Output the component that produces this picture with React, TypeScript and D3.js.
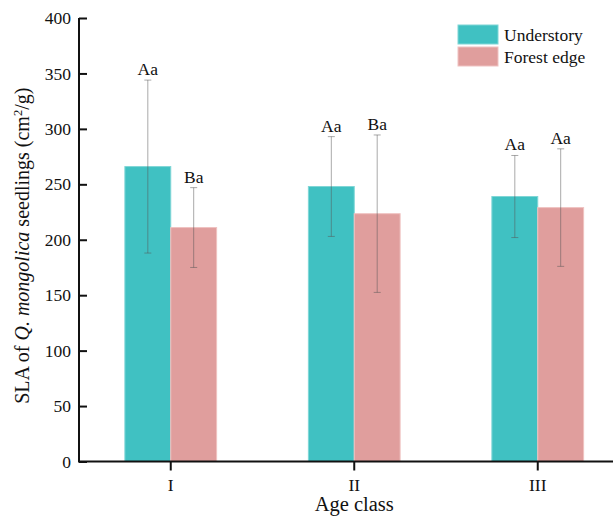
import { useEffect, useRef } from 'react'
import * as d3 from 'd3'

const W = 613
const H = 518
const MARGIN = { top: 18, left: 79, bottom: 57 }

const categories = ['I', 'II', 'III']
const series = ['Understory', 'Forest edge']
const colors = ['#40c1c2', '#e09e9d']
const strokes = ['#7fd6d6', '#efc2c1']

// means and standard deviations
const understoryMean = [266, 248, 239]
const understorySd = [78, 45, 37]
const edgeMean = [211, 223.5, 229]
const edgeSd = [36, 71, 53]
const understoryLetters = ['Aa', 'Aa', 'Aa']
const edgeLetters = ['Ba', 'Ba', 'Aa']

const yTicks = [0, 50, 100, 150, 200, 250, 300, 350, 400]

const FONT = '"Liberation Serif", "Times New Roman", serif'

export default function App() {
  const svgRef = useRef<SVGSVGElement | null>(null)

  useEffect(() => {
    if (!svgRef.current) return
    const svg = d3.select(svgRef.current)
    svg.selectAll('*').remove()

    const y = d3.scaleLinear().domain([0, 400]).range([461.5, MARGIN.top])
    const x = d3.scaleBand<string>().domain(categories).range([MARGIN.left, MARGIN.left + 3 * 183.5]).paddingInner(0).paddingOuter(0)
    const xs = d3.scaleBand<string>().domain(series).range([0, x.bandwidth() * 0.5])
    const groupOffset = x.bandwidth() * 0.25

    const data = series.map((s, si) => categories.map((c, ci) => ({
      cat: c,
      s,
      si,
      mean: si === 0 ? understoryMean[ci] : edgeMean[ci],
      sd: si === 0 ? understorySd[ci] : edgeSd[ci],
      letter: si === 0 ? understoryLetters[ci] : edgeLetters[ci],
    }))).flat()

    const g = svg.append('g')

    // bars
    g.selectAll('rect.bar').data(data).enter().append('rect')
      .attr('x', d => (x(d.cat) as number) + groupOffset + (xs(d.s) as number))
      .attr('y', d => y(d.mean))
      .attr('width', xs.bandwidth())
      .attr('height', d => y(0) - y(d.mean))
      .attr('fill', d => colors[d.si])
      .attr('stroke', d => strokes[d.si])
      .attr('stroke-width', 1)

    // error bars
    const cx = (d: typeof data[number]) => (x(d.cat) as number) + groupOffset + (xs(d.s) as number) + xs.bandwidth() / 2
    const eg = g.selectAll('g.err').data(data).enter().append('g')
      .attr('stroke', '#555').attr('stroke-opacity', 0.5).attr('stroke-width', 1)
    eg.append('line')
      .attr('x1', cx).attr('x2', cx)
      .attr('y1', d => y(d.mean + d.sd)).attr('y2', d => y(d.mean - d.sd))
    eg.append('line')
      .attr('x1', d => cx(d) - 3.5).attr('x2', d => cx(d) + 3.5)
      .attr('y1', d => y(d.mean + d.sd)).attr('y2', d => y(d.mean + d.sd))
    eg.append('line')
      .attr('x1', d => cx(d) - 3.5).attr('x2', d => cx(d) + 3.5)
      .attr('y1', d => y(d.mean - d.sd)).attr('y2', d => y(d.mean - d.sd))

    // letters
    g.selectAll('text.letter').data(data).enter().append('text')
      .attr('x', cx)
      .attr('y', d => y(d.mean + d.sd) - 5)
      .attr('text-anchor', 'middle')
      .attr('font-family', FONT).attr('font-size', 17.5).attr('fill', '#111')
      .text(d => d.letter)

    // y axis
    const ya = svg.append('g').attr('transform', `translate(${MARGIN.left},0)`)
      .call(d3.axisRight(y).tickValues(yTicks).tickSize(8).tickFormat(d3.format('d')))
    ya.select('.domain').attr('stroke', '#111').attr('stroke-width', 2).attr('d', `M0,${y(0)}V${y(400)}`)
    ya.selectAll('.tick line').attr('stroke', '#111').attr('stroke-width', 2)
    ya.selectAll('.tick text')
      .attr('x', -8).attr('text-anchor', 'end')
      .attr('font-family', FONT).attr('font-size', 17.5).attr('fill', '#111')

    // x axis
    const xa = svg.append('g').attr('transform', `translate(0,${y(0)})`)
      .call(d3.axisBottom(x).tickSize(9).tickSizeOuter(0))
    xa.select('.domain').attr('stroke', '#111').attr('stroke-width', 2).attr('d', `M${MARGIN.left - 1},0H${W}`)
    xa.selectAll('.tick line').attr('stroke', '#111').attr('stroke-width', 2)
    xa.selectAll('.tick text')
      .attr('y', 17)
      .attr('font-family', FONT).attr('font-size', 17.5).attr('fill', '#111')

    // titles
    svg.append('text')
      .attr('x', (x('II') as number) + x.bandwidth() / 2).attr('y', 511)
      .attr('text-anchor', 'middle')
      .attr('font-family', FONT).attr('font-size', 20.5).attr('fill', '#111')
      .text('Age class')

    const yt = svg.append('text')
      .attr('transform', `translate(29,${(y(0) + y(400)) / 2 + 6}) rotate(-90)`)
      .attr('text-anchor', 'middle')
      .attr('font-family', FONT).attr('font-size', 20).attr('fill', '#111')
    yt.append('tspan').text('SLA of ')
    yt.append('tspan').attr('font-style', 'italic').text('Q. mongolica')
    yt.append('tspan').text(' seedlings (cm')
    yt.append('tspan').attr('font-size', 12.5).attr('dy', -7).text('2')
    yt.append('tspan').attr('dy', 7).text('/g)')

    // legend
    const lg = svg.append('g').attr('transform', 'translate(458,25)')
    series.forEach((s, i) => {
      lg.append('rect').attr('x', 0).attr('y', i * 22).attr('width', 40).attr('height', 19)
        .attr('fill', colors[i]).attr('stroke', strokes[i]).attr('stroke-width', 1)
      lg.append('text').attr('x', 46).attr('y', i * 22 + 16)
        .attr('font-family', FONT).attr('font-size', 17.5).attr('fill', '#111')
        .text(s)
    })
  }, [])

  return (
    <div style={{ position: 'absolute', left: 0, top: 0 }}>
      <svg ref={svgRef} width={W} height={H} style={{ display: 'block', background: '#fff' }} />
    </div>
  )
}
